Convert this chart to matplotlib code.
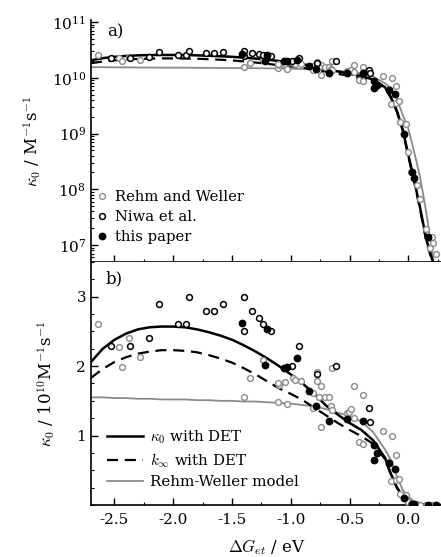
import matplotlib
matplotlib.use("Agg")
import matplotlib.pyplot as plt
from matplotlib.ticker import MultipleLocator, LogLocator, NullFormatter
from matplotlib.lines import Line2D

plt.rcParams["font.family"] = ["DejaVu Serif"]
plt.rcParams["mathtext.fontset"] = "cm"

# all rate constants in units of 1e10 M^-1 s^-1

# fitted curves
curve_x = [-2.7, -2.6, -2.5, -2.4, -2.3, -2.2, -2.1, -2.0, -1.9, -1.8, -1.7,
           -1.6, -1.5, -1.4, -1.3, -1.2, -1.1, -1.0, -0.9, -0.8, -0.7, -0.6,
           -0.5, -0.4, -0.3, -0.2, -0.15, -0.1, -0.05, 0.0, 0.05, 0.1, 0.15,
           0.2, 0.25, 0.3]
kappa0_det = [2.06, 2.25, 2.38, 2.47, 2.53, 2.56, 2.57, 2.57, 2.56, 2.53, 2.49,
              2.44, 2.38, 2.30, 2.21, 2.11, 2.00, 1.88, 1.75, 1.60, 1.43, 1.30,
              1.18, 1.08, 0.93, 0.68, 0.45, 0.26, 0.12, 0.04, 0.014, 0.0045, 0.0013,
              0.00056, 0.00025, 0.0001]
kinf_det = [1.83, 1.96, 2.06, 2.13, 2.18, 2.21, 2.23, 2.23, 2.22, 2.20, 2.16,
            2.11, 2.05, 1.97, 1.88, 1.78, 1.68, 1.60, 1.51, 1.40, 1.29, 1.18,
            1.08, 0.99, 0.88, 0.66, 0.44, 0.25, 0.115, 0.038, 0.013, 0.0042, 0.0012,
            0.00053, 0.00024, 0.0001]
rehm_weller_model = [1.55, 1.55, 1.54, 1.54, 1.53, 1.53, 1.52, 1.52, 1.52, 1.51, 1.51,
                     1.50, 1.50, 1.49, 1.49, 1.48, 1.47, 1.46, 1.44, 1.42, 1.38, 1.33,
                     1.28, 1.20, 1.05, 0.80, 0.65, 0.42, 0.22, 0.12, 0.045, 0.016, 0.004,
                     0.0008, 0.00015, 0.00003]

# Rehm and Weller data (grey open)
rw_x = [-2.64, -2.46, -2.44, -2.38, -2.28, -1.40, -1.35, -1.24, -1.11, -1.10,
        -1.11, -1.05, -1.03, -0.98, -0.965, -0.91, -0.81, -0.81, -0.78, -0.78,
        -0.74, -0.74, -0.76, -0.71, -0.68, -0.66, -0.65, -0.65, -0.52, -0.51,
        -0.49, -0.46, -0.46, -0.42, -0.39, -0.39, -0.22, -0.14, -0.17, -0.11,
        -0.15, -0.11, -0.08, -0.07, -0.02, 0.0, 0.02, 0.07, 0.10, 0.15, 0.20,
        0.21, 0.18, 0.23]
rw_y = [2.60, 2.27, 1.99, 2.40, 2.13, 1.55, 1.83, 2.09, 1.48, 1.73,
        1.76, 1.77, 1.45, 1.83, 1.80, 1.79, 1.61, 1.40, 1.92, 1.79,
        1.72, 1.13, 1.56, 1.56, 1.56, 1.42, 1.97, 1.37, 1.33, 1.34,
        1.38, 1.71, 1.25, 0.91, 0.88, 1.59, 1.07, 1.00, 0.62, 0.72,
        0.34, 0.36, 0.38, 0.16, 0.15, 0.046, 0.02, 0.012, 0.0068, 0.0019, 0.0014,
        0.0011, 0.0009, 0.0007]

# Niwa et al. data (black open)
niwa_x = [-2.53, -2.37, -2.21, -2.12, -1.96, -1.89, -1.87, -1.72, -1.65, -1.58,
          -1.40, -1.40, -1.33, -1.27, -1.24, -1.17, -0.99, -0.93, -0.78, -0.62,
          -0.34, -0.33]
niwa_y = [2.29, 2.29, 2.40, 2.90, 2.60, 2.60, 2.99, 2.80, 2.80, 2.90,
          3.00, 2.50, 2.80, 2.69, 2.60, 2.50, 2.00, 2.29, 1.88, 2.00,
          1.40, 1.20]

# this paper (black filled)
this_x = [-1.415, -1.20, -1.22, -1.06, -1.03, -0.95, -0.85, -0.79, -0.68, -0.52,
          -0.39, -0.29, -0.265, -0.29, -0.165, -0.117, -0.04, 0.03, 0.043, 0.163, 0.234]
this_y = [2.62, 2.53, 2.01, 1.98, 1.99, 2.12, 1.64, 1.43, 1.21, 1.24,
          1.21, 0.87, 0.75, 0.65, 0.60, 0.52, 0.10, 0.02, 0.016, 0.0014, 0.0003]

grey = "#8a8a8a"
fig = plt.figure(figsize=(4.41, 5.57), dpi=100)
ax_a = fig.add_axes([0.2063, 0.5296, 0.80, 0.4345])
ax_b = fig.add_axes([0.2063, 0.0934, 0.80, 0.4362])


def draw(ax, scale):
    ax.plot(curve_x, [v * scale for v in rehm_weller_model], color=grey, lw=1.3, zorder=2)
    ax.plot(curve_x, [v * scale for v in kinf_det], color="black", lw=1.6,
            ls=(0, (5, 3)), zorder=2)
    ax.plot(curve_x, [v * scale for v in kappa0_det], color="black", lw=1.8, zorder=2)
    ax.plot(rw_x, [v * scale for v in rw_y], "o", ms=4.2, mfc="white", mec=grey,
            mew=1.0, zorder=3)
    ax.plot(niwa_x, [v * scale for v in niwa_y], "o", ms=4.2, mfc="white", mec="black",
            mew=1.1, zorder=4)
    ax.plot(this_x, [v * scale for v in this_y], "o", ms=4.6, mfc="black", mec="black",
            zorder=5)


draw(ax_a, 1e10)
draw(ax_b, 1.0)

for ax in (ax_a, ax_b):
    ax.set_xlim(-2.7, 0.3)
    ax.spines["top"].set_visible(False)
    ax.spines["right"].set_visible(False)
    ax.spines["left"].set_linewidth(1.2)
    ax.spines["bottom"].set_linewidth(1.2)
    ax.xaxis.set_major_locator(MultipleLocator(0.5))
    ax.xaxis.set_minor_locator(MultipleLocator(0.25))
    ax.tick_params(which="both", direction="in", labelsize=11, top=False, right=False)
    ax.tick_params(which="major", length=5, width=1.0)
    ax.tick_params(which="minor", length=2.5, width=0.8)

# panel a
ax_a.set_yscale("log")
ax_a.set_ylim(4.95e6, 1.09e11)
ax_a.yaxis.set_major_locator(LogLocator(base=10, numticks=10))
ax_a.yaxis.set_minor_locator(LogLocator(base=10, subs=range(2, 10), numticks=20))
ax_a.yaxis.set_minor_formatter(NullFormatter())
ax_a.tick_params(axis="x", labelbottom=False)
ax_a.set_ylabel(r"$\kappa_0$ / M$^{-1}$s$^{-1}$", fontsize=12, labelpad=6)
ax_a.text(0.045, 0.985, "a)", transform=ax_a.transAxes, fontsize=12, va="top")

leg_a = [
    Line2D([0], [0], ls="none", marker="o", ms=4.2, mfc="white", mec=grey, mew=1.0,
           label="Rehm and Weller"),
    Line2D([0], [0], ls="none", marker="o", ms=4.2, mfc="white", mec="black", mew=1.1,
           label="Niwa et al."),
    Line2D([0], [0], ls="none", marker="o", ms=4.6, mfc="black", mec="black",
           label="this paper"),
]
ax_a.legend(handles=leg_a, loc="lower left", bbox_to_anchor=(0.01, 0.075),
            frameon=False, fontsize=10.6, handlelength=1.0, handletextpad=0.4,
            labelspacing=0.4, borderpad=0, borderaxespad=0)

# panel b
ax_b.set_ylim(0, 3.5)
ax_b.yaxis.set_major_locator(MultipleLocator(1))
ax_b.yaxis.set_minor_locator(MultipleLocator(0.25))
ax_b.set_yticks([1, 2, 3])
ax_b.set_yticklabels(["1", "2", "3"])
ax_b.set_xticks([-2.5, -2.0, -1.5, -1.0, -0.5, 0.0])
ax_b.set_xticklabels(["-2.5", "-2.0", "-1.5", "-1.0", "-0.5", "0.0"])
ax_b.tick_params(axis="x", pad=6)
ax_b.set_ylabel(r"$\kappa_0$ / 10$^{10}$M$^{-1}$s$^{-1}$", fontsize=12, labelpad=14)
ax_b.set_xlabel(r"$\Delta G_{et}$ / eV", fontsize=12, labelpad=7)
ax_b.text(0.04, 0.965, "b)", transform=ax_b.transAxes, fontsize=12, va="top")

leg_b = [
    Line2D([0], [0], color="black", lw=1.8, label=r"$\kappa_0$ with DET"),
    Line2D([0], [0], color="black", lw=1.6, ls=(0, (5, 3)), label=r"$k_\infty$ with DET"),
    Line2D([0], [0], color=grey, lw=1.3, label="Rehm-Weller model"),
]
ax_b.legend(handles=leg_b, loc="lower left", bbox_to_anchor=(0.045, 0.065),
            frameon=False, fontsize=10.8, handlelength=2.4, handletextpad=0.5,
            labelspacing=0.35, borderpad=0, borderaxespad=0)

fig.savefig("out.png", dpi=100)
